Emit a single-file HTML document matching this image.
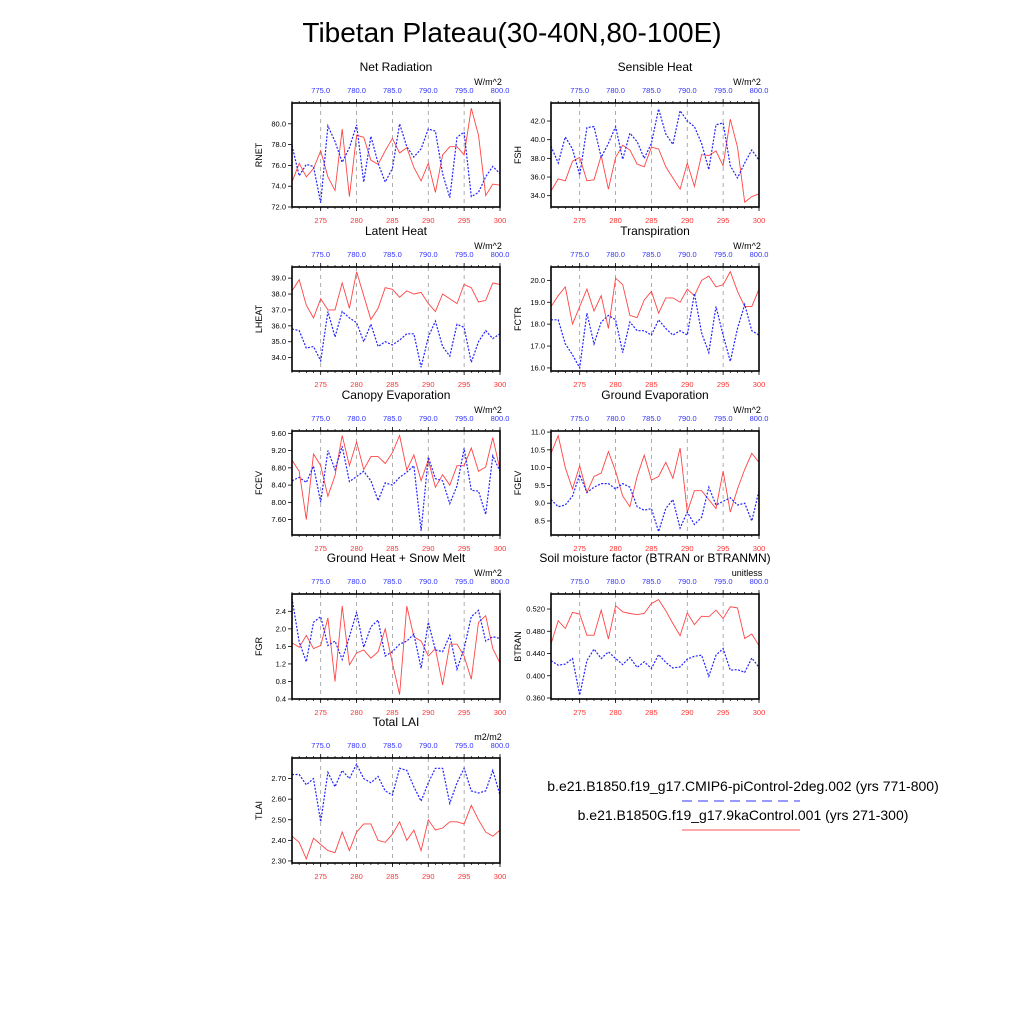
<!DOCTYPE html>
<html><head><meta charset="utf-8"><style>
body{margin:0;background:#fff;}
svg{display:block;font-family:"Liberation Sans",sans-serif;}
</style></head><body>
<svg id="chart" width="1024" height="1024" viewBox="0 0 1024 1024" xmlns="http://www.w3.org/2000/svg">
<rect width="1024" height="1024" fill="#fff"/>
<text x="512" y="42" font-size="28" text-anchor="middle">Tibetan Plateau(30-40N,80-100E)</text>
<g id="panels"></g>
<g>
<text x="743" y="791" font-size="14" text-anchor="middle">b.e21.B1850.f19_g17.CMIP6-piControl-2deg.002 (yrs 771-800)</text>
<line x1="682" y1="801" x2="800" y2="801" stroke="#3333ff" stroke-width="1" stroke-dasharray="10,6"/>
<text x="743" y="820" font-size="14" text-anchor="middle">b.e21.B1850G.f19_g17.9kaControl.001 (yrs 271-300)</text>
<line x1="682" y1="830" x2="800" y2="830" stroke="#ff5555" stroke-width="1"/>
</g>
</svg>
<script>
const years = [271,272,273,274,275,276,277,278,279,280,281,282,283,284,285,286,287,288,289,290,291,292,293,294,295,296,297,298,299,300];
const bottomTicks = [275,280,285,290,295,300];
const topTickLabels = ["775.0","780.0","785.0","790.0","795.0","800.0"];

const rnetRed = [74.4,76.2,74.9,75.7,77.4,74.9,73.6,79.5,73.0,78.9,78.7,76.5,76.1,77.4,78.6,77.2,77.7,75.8,74.5,76.2,73.4,77.0,77.8,77.8,77.0,81.5,78.9,73.1,74.2,74.1];
const rnetBlue = [77.9,75.0,76.1,75.9,72.4,79.8,78.3,76.3,77.7,79.9,74.4,78.8,76.2,74.4,75.7,80.0,77.8,76.8,77.6,79.5,79.3,75.2,72.9,78.7,79.2,73.0,73.4,74.9,75.9,75.2];
const fshRed = [34.5,35.8,35.6,37.7,38.1,35.6,35.7,38.3,34.7,38.1,39.4,38.9,37.4,37.1,39.2,39.0,37.1,35.9,34.7,37.5,35.0,38.4,38.3,38.8,37.2,42.2,39.2,33.3,33.9,34.2];
const fshBlue = [39.3,37.5,40.3,39.0,36.2,41.3,41.4,38.1,39.6,41.4,37.9,40.7,39.8,38.0,39.6,43.3,40.6,39.5,43.1,42.0,41.4,39.6,36.8,41.6,41.8,37.2,35.9,37.5,38.9,37.8];
const lheatRed = [38.2,38.9,37.3,36.5,37.7,37.0,37.0,38.7,37.1,39.4,37.9,36.4,37.1,38.4,38.3,37.8,38.2,38.0,38.1,37.4,36.9,38.0,37.7,37.4,38.6,38.4,37.5,37.6,38.7,38.6];
const lheatBlue = [35.8,35.7,34.6,34.7,33.8,36.9,35.3,36.9,36.5,36.2,35.0,36.1,34.7,35.0,34.8,35.1,35.5,35.5,33.4,35.3,36.3,34.7,34.1,36.1,35.9,33.7,35.0,35.7,35.2,35.5];
const fctrRed = [18.8,19.3,19.7,18.0,18.8,19.6,18.6,19.3,17.8,20.1,19.8,18.4,18.3,19.1,19.5,18.5,19.2,19.2,19.0,19.6,19.3,20.0,20.2,19.7,19.8,20.4,19.5,18.8,18.8,19.6];
const fctrBlue = [18.2,18.2,17.1,16.6,16.0,18.5,17.1,18.1,18.4,18.2,16.7,18.1,17.7,17.7,17.5,18.2,17.8,17.5,17.7,17.5,19.4,17.6,16.7,18.8,17.5,16.3,17.8,18.9,17.7,17.5];
const fcevRed = [8.98,8.72,7.60,9.12,8.85,8.14,8.62,9.55,8.85,9.40,8.76,9.06,9.06,8.90,9.15,9.55,8.75,9.10,8.50,8.98,8.35,8.64,8.40,8.85,8.85,9.26,8.72,8.82,9.50,8.76];
const fcevBlue = [8.50,8.58,8.46,8.84,8.00,9.20,8.76,9.30,8.48,8.60,8.72,8.50,8.04,8.45,8.40,8.58,8.70,8.85,7.34,9.05,8.55,8.50,7.97,8.38,9.25,8.28,8.26,7.72,9.08,8.72];
const fgevRed = [10.4,10.9,10.0,9.4,10.05,9.3,9.75,9.85,10.45,9.9,9.2,8.9,9.75,10.35,9.65,9.75,10.15,9.7,10.55,8.75,9.35,9.35,9.1,8.85,9.9,8.75,9.4,9.95,10.4,10.15];
const fgevBlue = [9.1,8.9,8.95,9.2,9.8,9.3,9.45,9.55,9.55,9.4,9.55,9.45,8.9,8.8,8.85,8.2,8.85,9.1,8.3,8.75,8.4,8.6,9.45,8.95,9.05,9.15,8.95,9.0,8.5,9.35];
const fgrRed = [1.68,1.58,1.85,1.55,1.62,2.25,0.80,2.52,1.18,1.45,1.52,1.33,1.48,2.00,1.22,0.50,2.52,1.82,1.72,1.38,1.55,0.72,1.65,1.65,1.38,0.85,2.15,2.30,1.55,1.22];
const fgrBlue = [2.70,1.70,1.25,2.15,2.28,1.62,1.72,1.30,1.82,2.38,1.58,2.05,2.20,1.38,1.48,1.65,1.72,1.88,1.10,2.15,1.52,1.48,1.85,1.08,1.55,2.28,2.42,1.72,1.82,1.78];
const btranRed = [0.457,0.499,0.485,0.514,0.511,0.473,0.473,0.518,0.466,0.526,0.515,0.512,0.510,0.512,0.530,0.537,0.517,0.494,0.472,0.513,0.492,0.507,0.506,0.518,0.503,0.524,0.522,0.467,0.475,0.454];
const btranBlue = [0.427,0.419,0.421,0.431,0.365,0.427,0.448,0.431,0.443,0.431,0.420,0.433,0.415,0.425,0.413,0.438,0.424,0.414,0.416,0.430,0.435,0.437,0.399,0.437,0.449,0.410,0.411,0.406,0.432,0.415];
const tlaiRed = [2.42,2.39,2.31,2.41,2.38,2.35,2.34,2.44,2.35,2.44,2.48,2.48,2.40,2.39,2.43,2.49,2.40,2.45,2.35,2.50,2.45,2.46,2.49,2.49,2.48,2.57,2.50,2.44,2.42,2.45];
const tlaiBlue = [2.72,2.72,2.67,2.70,2.49,2.73,2.66,2.74,2.70,2.77,2.70,2.68,2.71,2.64,2.62,2.75,2.74,2.66,2.59,2.68,2.75,2.75,2.58,2.68,2.75,2.64,2.63,2.64,2.74,2.62];

const rnetTicks = [72,74,76,78,80];
const fshTicks = [34,36,38,40,42];
const lheatTicks = [34,35,36,37,38,39];
const fctrTicks = [16,17,18,19,20];
const fcevTicks = [7.6,8.0,8.4,8.8,9.2,9.6];
const fgevTicks = [8.5,9.0,9.5,10.0,10.5,11.0];
const fgrTicks = [0.4,0.8,1.2,1.6,2.0,2.4];
const btranTicks = [0.36,0.40,0.44,0.48,0.52];
const tlaiTicks = [2.3,2.4,2.5,2.6,2.7];

const NS="http://www.w3.org/2000/svg";
const root=document.getElementById('panels');
function mk(tag,attrs,parent){const e=document.createElementNS(NS,tag);for(const k in attrs)e.setAttribute(k,attrs[k]);(parent||root).appendChild(e);return e;}

const panels=[
 {id:'rnet',title:'Net Radiation',yl:'RNET',unit:'W/m^2',x0:292,y0:103,y1:207,min:72,max:82,red:rnetRed,blue:rnetBlue,ticks:rnetTicks,dec:1},
 {id:'fsh',title:'Sensible Heat',yl:'FSH',unit:'W/m^2',x0:551,y0:103,y1:207,min:32.79,max:43.93,red:fshRed,blue:fshBlue,ticks:fshTicks,dec:1},
 {id:'lheat',title:'Latent Heat',yl:'LHEAT',unit:'W/m^2',x0:292,y0:267,y1:371,min:33.16,max:39.7,red:lheatRed,blue:lheatBlue,ticks:lheatTicks,dec:1},
 {id:'fctr',title:'Transpiration',yl:'FCTR',unit:'W/m^2',x0:551,y0:267,y1:371,min:15.86,max:20.61,red:fctrRed,blue:fctrBlue,ticks:fctrTicks,dec:1},
 {id:'fcev',title:'Canopy Evaporation',yl:'FCEV',unit:'W/m^2',x0:292,y0:431,y1:535,min:7.243,max:9.654,red:fcevRed,blue:fcevBlue,ticks:fcevTicks,dec:2},
 {id:'fgev',title:'Ground Evaporation',yl:'FGEV',unit:'W/m^2',x0:551,y0:431,y1:535,min:8.105,max:11.03,red:fgevRed,blue:fgevBlue,ticks:fgevTicks,dec:1},
 {id:'fgr',title:'Ground Heat + Snow Melt',yl:'FGR',unit:'W/m^2',x0:292,y0:594,y1:699,min:0.4,max:2.795,red:fgrRed,blue:fgrBlue,ticks:fgrTicks,dec:1},
 {id:'btran',title:'Soil moisture factor (BTRAN or BTRANMN)',yl:'BTRAN',unit:'unitless',x0:551,y0:594,y1:699,min:0.3582,max:0.547,red:btranRed,blue:btranBlue,ticks:btranTicks,dec:3},
 {id:'tlai',title:'Total LAI',yl:'TLAI',unit:'m2/m2',x0:292,y0:758,y1:863,min:2.29,max:2.8,red:tlaiRed,blue:tlaiBlue,ticks:tlaiTicks,dec:2}
];
const W=208;
panels.forEach(p=>{
 const g=mk('g',{});
 
 
 const xs=v=>p.x0+(v-271)/29*W;
 const ys=v=>p.y1-(v-p.min)/(p.max-p.min)*(p.y1-p.y0);
 const t=mk('text',{x:p.x0+W/2,y:p.y0-32,'font-size':12,'text-anchor':'middle'},g);t.textContent=p.title;
 
 
 const u=mk('text',{x:p.x0+W-12,y:p.y0-18,'font-size':9,'text-anchor':'middle'},g);u.textContent=p.unit;
 
 
 const yl=mk('text',{x:0,y:0,'font-size':9,'text-anchor':'middle',transform:`translate(${p.x0-30},${(p.y0+p.y1)/2}) rotate(-90)`},g);yl.textContent=p.yl;
 
 
 bottomTicks.slice(0,5).forEach(v=>{const l=mk('line',{x1:xs(v),x2:xs(v),y1:p.y0,y2:p.y1,stroke:'#999','stroke-width':0.8,'stroke-dasharray':'4,4'},g);
  
  });
 years.forEach(v=>{mk('line',{x1:xs(v),x2:xs(v),y1:p.y1,y2:p.y1+2,stroke:'#000','stroke-width':0.7},g);mk('line',{x1:xs(v),x2:xs(v),y1:p.y0,y2:p.y0-2,stroke:'#000','stroke-width':0.7},g);});
 bottomTicks.forEach((v,i)=>{
  mk('line',{x1:xs(v),x2:xs(v),y1:p.y1,y2:p.y1+4,stroke:'#000','stroke-width':0.8},g);
  mk('line',{x1:xs(v),x2:xs(v),y1:p.y0,y2:p.y0-4,stroke:'#000','stroke-width':0.8},g);
  const b=mk('text',{x:xs(v),y:p.y1+16,'font-size':7.5,fill:'#ff3333','text-anchor':'middle'},g);b.textContent=v;
  
  
  const tp=mk('text',{x:xs(v),y:p.y0-10,'font-size':7.5,fill:'#3333ff','text-anchor':'middle'},g);tp.textContent=topTickLabels[i];
  
  
 });
 p.ticks.forEach(v=>{
  const y=ys(v);
  mk('line',{x1:p.x0-4,x2:p.x0,y1:y,y2:y,stroke:'#000','stroke-width':0.8},g);
  const l=mk('text',{x:p.x0-6,y:y+2.5,'font-size':7.5,'text-anchor':'end'},g);l.textContent=v.toFixed(p.dec);
  
  
 });
 const pt=arr=>arr.map((v,i)=>xs(years[i]).toFixed(1)+','+ys(v).toFixed(1)).join(' ');
 const r=mk('polyline',{points:pt(p.red),fill:'none',stroke:'#ff4444','stroke-width':0.9},g);
 
 
 const bl=mk('polyline',{points:pt(p.blue),fill:'none',stroke:'#2222ff','stroke-width':1.2,'stroke-dasharray':'2,1.5'},g);
 
 
 const f=mk('rect',{x:p.x0,y:p.y0,width:W,height:p.y1-p.y0,fill:'none',stroke:'#000','stroke-width':1.6},g);
 
 
});
</script>
</body></html>
